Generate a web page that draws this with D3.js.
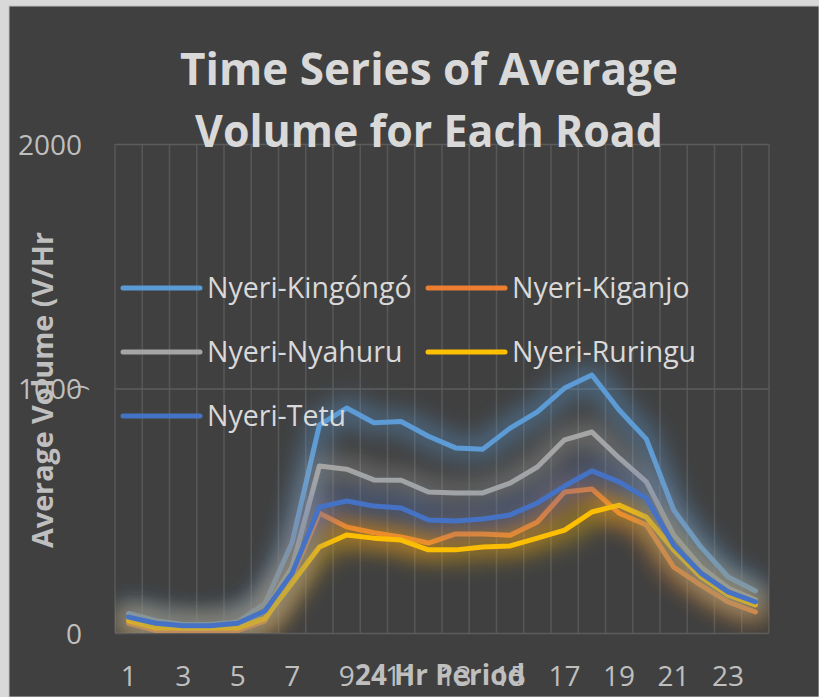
<!DOCTYPE html>
<html>
<head>
<meta charset="utf-8">
<script src="https://cdn.jsdelivr.net/npm/d3@7"></script>
<style>
  body { margin: 0; background: #d9d9d9; }
  svg { display: block; }
</style>
</head>
<body>
<div id="chart"></div>
<script>
// hours of the day (category axis)
const hours = [1,2,3,4,5,6,7,8,9,10,11,12,13,14,15,16,17,18,19,20,21,22,23,24];
const hourLabels = [1,3,5,7,9,11,13,15,17,19,21,23];
const yTicks = [0, 1000, 2000];

// average volume per hour
const kingongo = [80,50,35,35,45,120,370,850,920,860,865,805,757,752,838,904,1002,1055,912,793,503,352,229,172];
const kiganjo  = [40,10,5,5,10,50,230,490,434,410,393,368,405,405,400,454,577,589,490,442,270,196,127,86];
const nyahuru  = [60,30,20,20,30,90,270,683,670,626,625,577,573,573,613,679,790,822,716,618,401,270,184,135];
const ruringu  = [50,20,20,20,20,60,205,352,401,388,380,340,340,352,356,388,421,495,523,474,340,229,155,115];
const tetu     = [65,40,30,30,40,90,245,515,540,519,511,462,458,466,483,532,601,663,618,552,360,245,168,127];

const seriesNames = ['Nyeri-Kingóngó','Nyeri-Kiganjo','Nyeri-Nyahuru','Nyeri-Ruringu','Nyeri-Tetu'];
const seriesValues = [kingongo, kiganjo, nyahuru, ruringu, tetu];
const colors = ['#5b9bd5','#ed7d31','#a5a5a5','#ffc000','#4472c4'];

const W = 819, H = 697;
const margin = {top: 144, right: 50, bottom: 64, left: 115};
const plotW = W - margin.left - margin.right;
const plotH = H - margin.top - margin.bottom;
const font = '"Open Sans", sans-serif';

const svg = d3.select('#chart').append('svg')
  .attr('width', W)
  .attr('height', H);

// chart area background (light frame shows at left/top)
svg.append('rect')
  .attr('x', 9).attr('y', 6)
  .attr('width', W - 9).attr('height', H - 6)
  .attr('fill', '#404040')
  .attr('stroke', '#bfbfbf').attr('stroke-width', 1);

// glow filter like the spreadsheet line effect, clipped to the plot area
// (userSpaceOnUse -> coordinates are local to the plot group)
const defs = svg.append('defs');
const f = defs.append('filter')
  .attr('id', 'glow')
  .attr('filterUnits', 'userSpaceOnUse')
  .attr('x', 0).attr('y', 0)
  .attr('width', plotW).attr('height', plotH);
f.append('feMorphology').attr('in', 'SourceGraphic').attr('operator', 'dilate').attr('radius', 6).attr('result', 'd');
f.append('feGaussianBlur').attr('in', 'd').attr('stdDeviation', 12).attr('result', 'b');
f.append('feComponentTransfer').attr('in', 'b').attr('result', 'bt')
  .append('feFuncA').attr('type', 'linear').attr('slope', 0.5);
const fm = f.append('feMerge');
fm.append('feMergeNode').attr('in', 'bt');
fm.append('feMergeNode').attr('in', 'SourceGraphic');

const x = d3.scaleBand()
  .domain(hours)
  .range([0, plotW])
  .padding(0);

const y = d3.scaleLinear()
  .domain([0, 2000])
  .range([plotH, 0]);

const g = svg.append('g')
  .attr('transform', 'translate(' + margin.left + ',' + margin.top + ')');

// vertical gridlines on category boundaries
g.append('g')
  .selectAll('line')
  .data(hours.concat(['end']))
  .enter().append('line')
    .attr('x1', d => d === 'end' ? plotW : x(d))
    .attr('x2', d => d === 'end' ? plotW : x(d))
    .attr('y1', 0).attr('y2', plotH)
    .attr('stroke', '#575757').attr('stroke-width', 1.5);

// y axis + horizontal gridlines
const yAxis = g.append('g')
  .call(d3.axisLeft(y).tickValues(yTicks).tickFormat(d3.format('d')).tickSize(-plotW).tickPadding(33));
yAxis.select('.domain').remove();
yAxis.selectAll('line').attr('stroke', '#5c5c5c').attr('stroke-width', 1.5);
yAxis.selectAll('text')
  .attr('fill', '#bfbfbf')
  .attr('font-family', font)
  .attr('font-size', 28)
  .attr('dy', '0.36em');

// x axis labels (odd hours)
const xAxis = g.append('g')
  .attr('transform', 'translate(0,' + plotH + ')')
  .call(d3.axisBottom(x).tickValues(hourLabels).tickSize(0).tickPadding(0));
xAxis.select('.domain').remove();
xAxis.selectAll('text')
  .attr('y', 53)
  .attr('dy', 0)
  .attr('fill', '#bfbfbf')
  .attr('font-family', font)
  .attr('font-size', 28);

// series lines
const line = d3.line()
  .x((d, i) => x(hours[i]) + x.bandwidth() / 2)
  .y(d => y(d));

g.selectAll('.series')
  .data(seriesValues)
  .enter().append('path')
    .attr('class', 'series')
    .attr('d', d => line(d))
    .attr('fill', 'none')
    .attr('stroke', (d, i) => colors[i])
    .attr('stroke-width', 5)
    .attr('stroke-linejoin', 'round')
    .attr('stroke-linecap', 'round')
    .attr('filter', 'url(#glow)');

// title
const title = svg.append('text')
  .attr('text-anchor', 'middle')
  .attr('fill', '#d9d9d9')
  .attr('font-family', font)
  .attr('font-weight', 'bold')
  .attr('font-size', 45);
title.append('tspan').attr('x', 429).attr('y', 85).attr('textLength', 498).attr('lengthAdjust', 'spacingAndGlyphs').text('Time Series of Average');
title.append('tspan').attr('x', 429).attr('y', 147).attr('textLength', 468).attr('lengthAdjust', 'spacingAndGlyphs').text('Volume for Each Road');

// axis titles
svg.append('text')
  .attr('transform', 'translate(53,390) rotate(-90)')
  .attr('text-anchor', 'middle')
  .attr('fill', '#bfbfbf')
  .attr('font-family', font)
  .attr('font-weight', 'bold')
  .attr('font-size', 29)
  .attr('textLength', 316)
  .attr('lengthAdjust', 'spacingAndGlyphs')
  .text('Average Volume (V/Hr');
svg.append('text')
  .attr('transform', 'translate(86,388) rotate(-90)')
  .attr('text-anchor', 'middle')
  .attr('fill', '#bfbfbf')
  .attr('font-family', font)
  .attr('font-size', 22)
  .text(')');

svg.append('text')
  .attr('x', 440).attr('y', 685)
  .attr('text-anchor', 'middle')
  .attr('fill', '#bfbfbf')
  .attr('font-family', font)
  .attr('font-weight', 'bold')
  .attr('font-size', 29)
  .attr('textLength', 170)
  .attr('lengthAdjust', 'spacingAndGlyphs')
  .text('24 Hr Period');

// legend, two columns, drawn over the plot
const legendX = [123, 428];
const legendY = [288, 352, 416];
const leg = svg.selectAll('.legend')
  .data(seriesNames)
  .enter().append('g')
    .attr('class', 'legend')
    .attr('transform', (d, i) => 'translate(' + legendX[i % 2] + ',' + legendY[Math.floor(i / 2)] + ')');
leg.append('line')
  .attr('x1', 0).attr('x2', 77)
  .attr('y1', 0).attr('y2', 0)
  .attr('stroke', (d, i) => colors[i])
  .attr('stroke-width', 5)
  .attr('stroke-linecap', 'round');
leg.append('text')
  .attr('x', 84).attr('y', 10)
  .attr('fill', '#d9d9d9')
  .attr('font-family', font)
  .attr('font-size', 28.5)
  .text(d => d);
</script>
</body>
</html>
